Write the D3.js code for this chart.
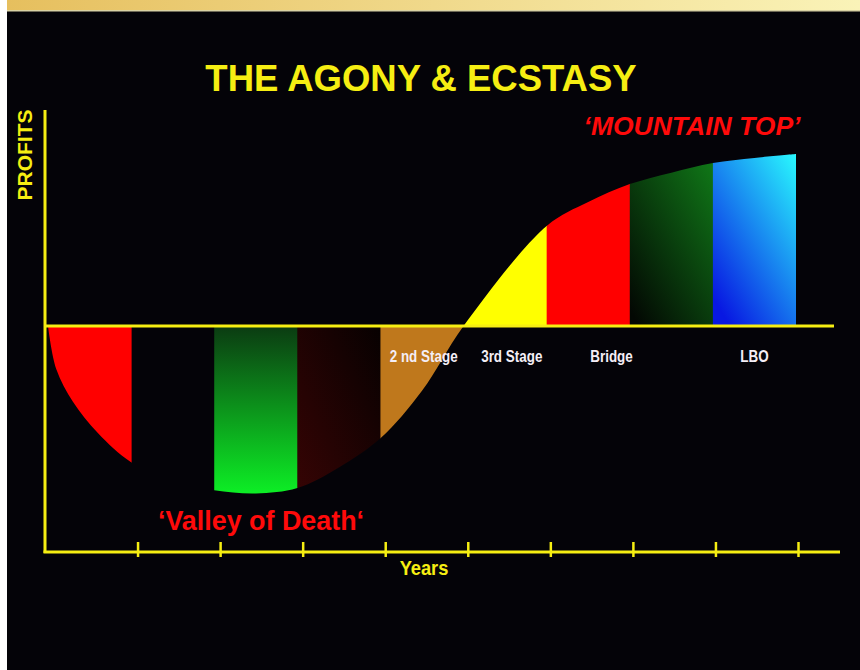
<!DOCTYPE html>
<html>
<head>
<meta charset="utf-8">
<script src="https://cdn.jsdelivr.net/npm/d3@7"></script>
<style>
	html, body { margin: 0; padding: 0; background: #ffffff; }
	svg { display: block; }
</style>
</head>
<body>
<script>
"use strict";

// curve: year position -> profit (arbitrary units)
var years   = [0, 0.1, 0.3, 0.6, 1, 1.5, 2, 2.5, 3, 3.5, 4, 4.5, 5, 6, 6.5, 7, 7.5, 8, 8.5, 9];
var profits = [0, -20, -35, -49.5, -63, -72, -76, -77.5, -75, -65.5, -52, -30, 0, 46.3, 57.4, 65.7, 71, 75.5, 77.8, 79.6];

// one band per year, fill ids
var bandFills = ["solidRed", "none", "gradGreenUp", "gradDarkRed", "orange", "solidYellow", "solidRed", "gradGreenDown", "gradBlue"];

var yearTicks = [1, 2, 3, 4, 5, 6, 7, 8, 9];
var stageLabels = ["2 nd Stage", "3rd Stage", "Bridge", "LBO"];
var stagePos = [4.52, 5.58, 6.78, 8.5];

(function() {
	var W = 860, H = 670;
	var yellow = "#f6ee12";

	var svg = d3.select("body").append("svg")
		.attr("width", W)
		.attr("height", H);

	var defs = svg.append("defs");

	var g1 = defs.append("linearGradient").attr("id", "topBand");
	g1.append("stop").attr("offset", "0%").attr("stop-color", "#e6bf5e");
	g1.append("stop").attr("offset", "100%").attr("stop-color", "#faf3b8");

	function vgrad(id, top, bottom, x1, x2) {
		var g = defs.append("linearGradient").attr("id", id)
			.attr("x1", x1 || "0").attr("y1", "0").attr("x2", x2 || "0").attr("y2", "1");
		g.append("stop").attr("offset", "0%").attr("stop-color", top);
		g.append("stop").attr("offset", "100%").attr("stop-color", bottom);
	}
	vgrad("gradGreenUp", "#0b3411", "#0df526");
	vgrad("gradDarkRed", "#060101", "#360404", "1", "0");
	vgrad("gradGreenDown", "#107a18", "#030803", "1", "0.15");
	vgrad("gradBlue", "#2affff", "#0818e2", "1", "0.25");

	var fillMap = {
		solidRed: "#ff0000",
		solidYellow: "#ffff00",
		orange: "#bf781c",
		none: "none",
		gradGreenUp: "url(#gradGreenUp)",
		gradDarkRed: "url(#gradDarkRed)",
		gradGreenDown: "url(#gradGreenDown)",
		gradBlue: "url(#gradBlue)"
	};

	// page frame
	svg.append("rect").attr("width", W).attr("height", H).attr("fill", "#ffffff");
	svg.append("rect").attr("x", 7).attr("y", 11).attr("width", W - 7).attr("height", H - 11).attr("fill", "#040308");
	svg.append("rect").attr("x", 7).attr("y", 0).attr("width", W - 7).attr("height", 10).attr("fill", "url(#topBand)");
	svg.append("rect").attr("x", 7).attr("y", 10).attr("width", W - 7).attr("height", 1.5).attr("fill", "#d9d2a4");

	var x = d3.scaleLinear().domain([0, 9]).range([48, 796]);
	var xTick = d3.scaleLinear().domain([0, 9]).range([55, 798]);
	var y = d3.scaleLinear().domain([-104.6, 100]).range([552, 110]);

	var pts = years.map(function(d, i) { return [d, profits[i]]; });

	var area = d3.area()
		.x(function(d) { return x(d[0]); })
		.y0(y(0))
		.y1(function(d) { return y(d[1]); })
		.curve(d3.curveCatmullRom.alpha(0.5));

	defs.append("clipPath").attr("id", "curveClip")
		.append("path").attr("d", area(pts));

	// each band's box spans the curve's extent inside that year
	function bandExtent(i) {
		var inBand = pts.filter(function(p) { return p[0] >= i && p[0] <= i + 1; })
			.map(function(p) { return p[1]; });
		var lo = Math.min(0, d3.min(inBand)), hi = Math.max(0, d3.max(inBand));
		return [lo - 3, hi + 3];
	}

	svg.append("g")
		.attr("clip-path", "url(#curveClip)")
		.selectAll("rect")
		.data(bandFills)
		.join("rect")
		.attr("x", function(d, i) { return x(i); })
		.attr("width", function(d, i) { return x(i + 1) - x(i) + 0.5; })
		.attr("y", function(d, i) { return y(bandExtent(i)[1]); })
		.attr("height", function(d, i) { var e = bandExtent(i); return y(e[0]) - y(e[1]); })
		.attr("fill", function(d) { return fillMap[d]; });

	// zero line
	svg.append("line")
		.attr("x1", 45).attr("x2", 834)
		.attr("y1", y(0)).attr("y2", y(0))
		.attr("stroke", yellow).attr("stroke-width", 3);

	// axes
	svg.append("line")
		.attr("x1", 45).attr("x2", 45)
		.attr("y1", 110).attr("y2", 553)
		.attr("stroke", yellow).attr("stroke-width", 3);

	var axis = d3.axisBottom(xTick).tickValues(yearTicks).tickSize(15).tickFormat("");
	var ag = svg.append("g")
		.attr("transform", "translate(0," + (y(-104.6) - 10) + ")")
		.call(axis);
	ag.select(".domain").remove();
	ag.selectAll(".tick line").attr("stroke", yellow).attr("stroke-width", 2.5);

	svg.append("line")
		.attr("x1", 43.5).attr("x2", 840)
		.attr("y1", 552).attr("y2", 552)
		.attr("stroke", yellow).attr("stroke-width", 3);

	// texts
	svg.append("text")
		.attr("x", 421).attr("y", 91)
		.attr("text-anchor", "middle")
		.style("font", "bold 36.5px 'Liberation Sans', Arial, sans-serif")
		.attr("fill", yellow)
		.text("THE AGONY & ECSTASY");

	svg.append("text")
		.attr("transform", "translate(32,155) rotate(-90)")
		.attr("text-anchor", "middle")
		.style("font", "bold 21px 'Liberation Sans', Arial, sans-serif")
		.attr("fill", yellow)
		.text("PROFITS");

	svg.append("text")
		.attr("x", 692).attr("y", 135)
		.attr("text-anchor", "middle")
		.style("font", "italic bold 26.5px 'Liberation Sans', Arial, sans-serif")
		.attr("fill", "#ff0a0a")
		.text("\u2018MOUNTAIN TOP\u2019");

	svg.append("text")
		.attr("transform", "translate(261,530) scale(0.96,1)")
		.attr("text-anchor", "middle")
		.style("font", "bold 28px 'Liberation Sans', Arial, sans-serif")
		.attr("fill", "#ff0a0a")
		.text("\u2018Valley of Death\u2018");

	svg.append("text")
		.attr("transform", "translate(424,575) scale(0.87,1)")
		.attr("text-anchor", "middle")
		.style("font", "bold 21px 'Liberation Sans', Arial, sans-serif")
		.attr("fill", yellow)
		.text("Years");

	svg.selectAll("text.stage")
		.data(stageLabels)
		.join("text")
		.attr("class", "stage")
		.attr("transform", function(d, i) { return "translate(" + x(stagePos[i]) + ",362) scale(0.84,1)"; })
		.attr("text-anchor", "middle")
		.style("font", "bold 16px 'Liberation Sans', Arial, sans-serif")
		.attr("fill", "#f4eef6")
		.text(function(d) { return d; });
}());
</script>
</body>
</html>
